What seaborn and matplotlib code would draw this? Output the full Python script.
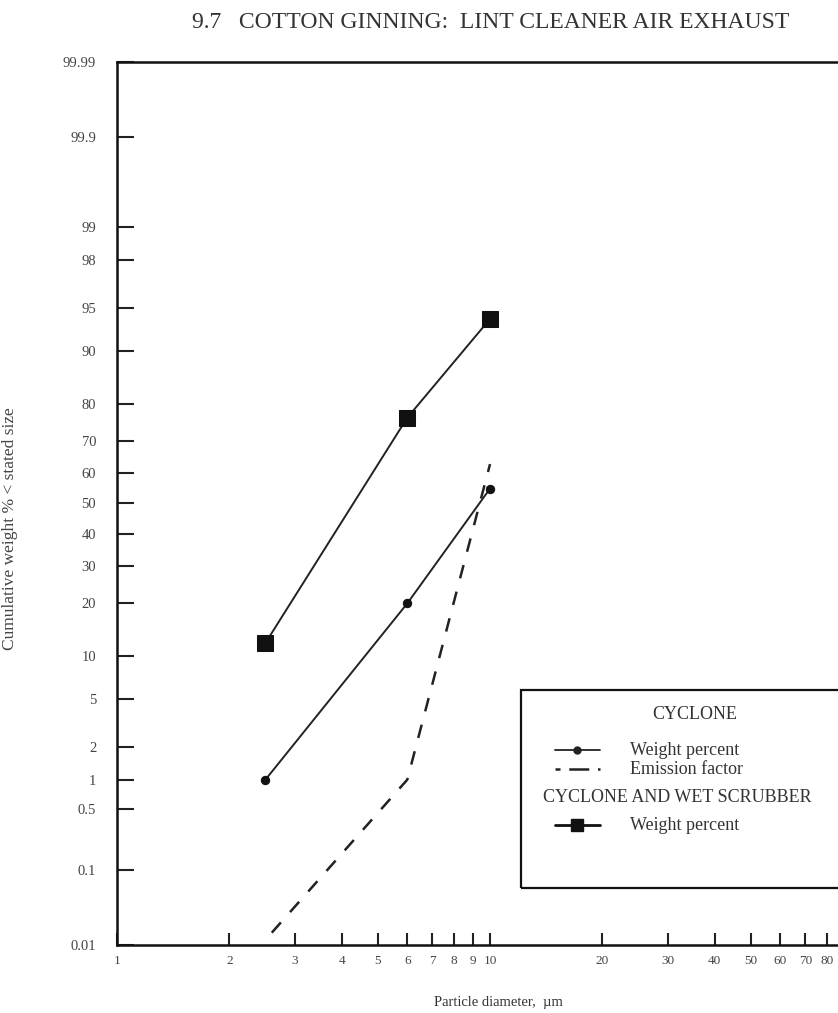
import numpy as np
import pandas as pd
import matplotlib
matplotlib.use("Agg")
import matplotlib.pyplot as plt
from matplotlib.patches import Rectangle
from matplotlib.lines import Line2D
from matplotlib.ticker import FixedLocator, FixedFormatter, NullLocator
import seaborn as sns
from statistics import NormalDist

# ---- data ----
scrubber_x = [2.5, 6, 10]
scrubber_y = [12, 76.5, 94]
cyclone_x = [2.5, 6, 10]
cyclone_y = [1, 20, 55]
emission_x = [2.6, 6, 10]
emission_y = [0.015, 1, 63]

y_ticks = [0.01, 0.1, 0.5, 1, 2, 5, 10, 20, 30, 40, 50, 60, 70, 80, 90, 95, 98, 99, 99.9, 99.99]
y_labels = ["0.01", "0.1", "0.5", "1", "2", "5", "10", "20", "30", "40", "50", "60", "70", "80",
            "90", "95", "98", "99", "99.9", "99.99"]
x_ticks = [1, 2, 3, 4, 5, 6, 7, 8, 9, 10, 20, 30, 40, 50, 60, 70, 80]
x_labels = [str(v) for v in x_ticks]

sns.set_style("white")
plt.rcParams['font.family'] = ['Liberation Serif', 'DejaVu Serif']

nd = NormalDist()

def _fwd1(v):
    if not np.isfinite(v):
        return np.nan
    p = min(max(v / 100.0, 1e-12), 1 - 1e-12)
    return nd.inv_cdf(p)

def _inv1(z):
    if not np.isfinite(z):
        return np.nan
    return 100.0 * nd.cdf(z)

fwd = np.vectorize(_fwd1, otypes=[float])
inv = np.vectorize(_inv1, otypes=[float])

fig = plt.figure(figsize=(8.38, 10.13), dpi=100)
ax = fig.add_axes([117 / 838, 68 / 1013, 729 / 838, 883 / 1013])
ax.set_xscale('log')
ax.set_yscale('function', functions=(fwd, inv))

df_s = pd.DataFrame({"x": scrubber_x, "y": scrubber_y})
df_c = pd.DataFrame({"x": cyclone_x, "y": cyclone_y})
df_e = pd.DataFrame({"x": emission_x, "y": emission_y})

sns.lineplot(data=df_s, x="x", y="y", ax=ax, color="#222222", linewidth=1.4,
             marker="s", markersize=11, markeredgecolor="#111111", markerfacecolor="#111111")
sns.lineplot(data=df_c, x="x", y="y", ax=ax, color="#222222", linewidth=1.4,
             marker="o", markersize=6, markeredgecolor="#111111", markerfacecolor="#111111")
sns.lineplot(data=df_e, x="x", y="y", ax=ax, color="#222222", linewidth=1.8,
             dashes=False, linestyle=(0, (5.5, 5.5)))

ax.set_xlim(1, 90)
ax.set_ylim(0.01, 99.99)

ax.xaxis.set_major_locator(FixedLocator(x_ticks))
ax.xaxis.set_major_formatter(FixedFormatter(x_labels))
ax.xaxis.set_minor_locator(NullLocator())
ax.yaxis.set_major_locator(FixedLocator(y_ticks))
ax.yaxis.set_major_formatter(FixedFormatter(y_labels))
ax.yaxis.set_minor_locator(NullLocator())

ax.tick_params(axis='y', which='major', left=True, direction='in', length=12, width=1.5,
               color='#222222', labelsize=10.5, labelcolor='#444444', pad=15)
ax.tick_params(axis='x', which='major', bottom=True, direction='in', length=9, width=1.5,
               color='#222222', labelsize=9.5, labelcolor='#444444', pad=7)

for s in ['left', 'bottom', 'top']:
    ax.spines[s].set_color('#111111')
    ax.spines[s].set_linewidth(1.8)
ax.spines['right'].set_visible(False)

ax.set_xlabel("Particle diameter,  µm", fontsize=10.5, color='#333333')
ax.xaxis.set_label_coords(0.523, -0.058)
ax.set_ylabel("Cumulative weight % < stated size", fontsize=12.5, color='#444444')
ax.yaxis.set_label_coords(-0.136, 0.472)

fig.text(491 / 838, 1 - 22 / 1013, "9.7   COTTON GINNING:  LINT CLEANER AIR EXHAUST",
         ha='center', va='center', fontsize=17, color='#333333')

# ---- legend box ----
T = ax.transAxes
ax.add_patch(Rectangle((0.554, 0.0646), 0.6, 0.2242, transform=T, fill=False,
                       edgecolor='#111111', linewidth=1.6, clip_on=False))
lfs = 13
ax.text(0.793, 0.2605, "CYCLONE", transform=T, ha='center', va='center', fontsize=lfs, color='#333333')
ax.text(0.704, 0.2208, "Weight percent", transform=T, ha='left', va='center', fontsize=lfs, color='#333333')
ax.text(0.704, 0.1993, "Emission factor", transform=T, ha='left', va='center', fontsize=lfs, color='#333333')
ax.text(0.584, 0.1665, "CYCLONE AND WET SCRUBBER", transform=T, ha='left', va='center', fontsize=lfs, color='#333333')
ax.text(0.704, 0.1359, "Weight percent", transform=T, ha='left', va='center', fontsize=lfs, color='#333333')

ax.add_line(Line2D([0.601, 0.6626], [0.2208, 0.2208], transform=T, color='#222222', lw=1.3,
                   clip_on=False))
ax.add_line(Line2D([0.631], [0.2208], transform=T, marker='o', markersize=5, color='#222222',
                   clip_on=False))
ax.add_line(Line2D([0.601, 0.6626], [0.1993, 0.1993], transform=T, color='#222222', lw=1.8,
                   linestyle=(0, (2, 3.5, 6, 0)), clip_on=False))
ax.add_line(Line2D([0.601, 0.6626], [0.1359, 0.1359], transform=T, color='#111111', lw=2.0,
                   clip_on=False))
ax.add_line(Line2D([0.631], [0.1359], transform=T, marker='s', markersize=9, color='#111111',
                   clip_on=False))

fig.savefig("out.png", dpi=100)
